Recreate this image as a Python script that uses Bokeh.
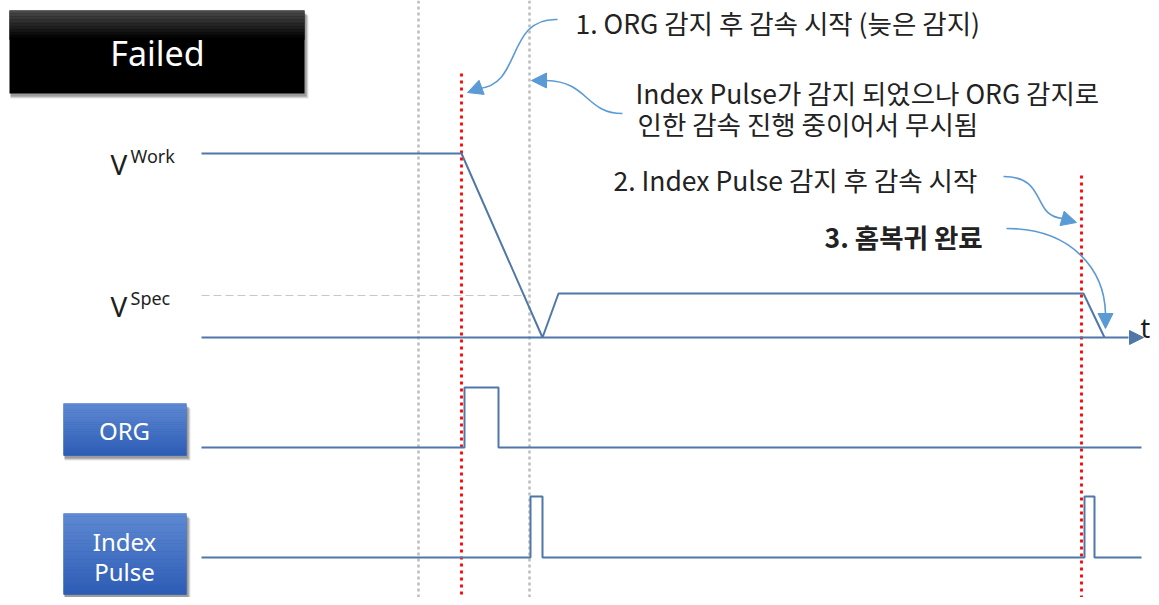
from bokeh.plotting import figure
from bokeh.models import Range1d, Arrow, NormalHead
from bokeh.core.properties import value
from bokeh.embed import file_html
from bokeh.resources import INLINE

# ---------------- data (time axis in drawing units, levels in drawing units) -------------
# velocity profile
vel_t = [201, 461, 542, 558, 1083, 1104]
vel_v = [153, 153, 337, 293, 293, 337]
v_zero = 337
v_spec = 295
axis_t = [201, 1128]
# ORG sensor signal
org_t = [201, 464, 464, 498, 498, 1141]
org_v = [447, 447, 387, 387, 447, 447]
# Index pulse signal
idx_t = [201, 530, 530, 542, 542, 1084, 1084, 1094, 1094, 1141]
idx_v = [557, 557, 496, 496, 557, 557, 496, 496, 557, 557]
# event markers
gray_marks = [418, 529]
red_marks = [461, 1081]
red_tops = [73, 175]

title_text = "Failed"
track_labels = ["ORG", "Index", "Pulse"]
notes = [
    "1. ORG 감지 후 감속 시작 (늦은 감지)",
    "Index Pulse가 감지 되었으나 ORG 감지로",
    "인한 감속 진행 중이어서 무시됨",
    "2. Index Pulse 감지 후 감속 시작",
    "3. 홈복귀 완료",
]

# ---------------- figure -----------------
W, H = 1151, 597
p = figure(width=W, height=H, x_range=Range1d(0, W), y_range=Range1d(H, 0),
           output_backend="svg", toolbar_location=None, min_border=0,
           x_axis_type=None, y_axis_type=None)
p.grid.visible = False
p.outline_line_color = None
p.background_fill_color = "white"
p.border_fill_color = "white"

SIG = "#4F78A8"
CURVE = "#5B9BD5"
KR = value("Noto Sans CJK KR")
LAT = value("Noto Sans")

# vertical marker lines
for x in gray_marks:
    p.line([x, x], [0, 600], line_color="#BDBDBD", line_width=2.5, line_dash="3 3")
for x, top in zip(red_marks, red_tops):
    p.line([x, x], [top, 600], line_color="#FF0000", line_width=2.8, line_dash="3 4")

# V spec dashed reference
p.line([201, 526], [v_spec, v_spec], line_color="#C8C8C8", line_width=1, line_dash="8 4")

# signals
p.line(axis_t, [v_zero, v_zero], line_color=SIG, line_width=2)
p.add_layout(Arrow(end=NormalHead(size=14, fill_color=SIG, line_color=SIG),
                   x_start=1125, y_start=v_zero, x_end=1143, y_end=v_zero, line_alpha=0))
p.line(vel_t, vel_v, line_color=SIG, line_width=2)
p.line(org_t, org_v, line_color=SIG, line_width=2)
p.line(idx_t, idx_v, line_color=SIG, line_width=2)


def gradient_box(x0, x1, y0, y1, c_top, c_bot, n=30, frac=1.0):
    # shadow
    for k, a in [(5, 0.10), (4, 0.15), (3, 0.2)]:
        p.quad(left=x0 + 1, right=x1 + k - 1, top=y0 + k, bottom=y1 + k,
               fill_color="#000000", fill_alpha=a, line_alpha=0)
    def hx(c):
        return [int(c[i:i + 2], 16) for i in (1, 3, 5)]
    a, b = hx(c_top), hx(c_bot)
    gh = (y1 - y0) * frac
    p.quad(left=x0, right=x1, top=y0, bottom=y1, fill_color=c_bot, line_alpha=0)
    for i in range(n):
        t = i / (n - 1)
        col = "#%02x%02x%02x" % tuple(int(a[j] + (b[j] - a[j]) * t) for j in range(3))
        ya = y0 + gh * i / n
        yb = y0 + gh * (i + 1) / n
        p.quad(left=x0, right=x1, top=ya, bottom=yb + 0.3, fill_color=col, line_alpha=0)


gradient_box(9, 304, 10, 93, "#4a4a4a", "#000000", n=20, frac=0.35)
gradient_box(63, 186, 403, 455, "#5E89D3", "#2E5DB5")
gradient_box(63, 186, 513, 594, "#5E89D3", "#2E5DB5")

p.text(x=[157], y=[52], text=[title_text], text_color="white", text_font=LAT,
       text_font_size="34px", text_align="center", text_baseline="middle")
p.text(x=[124, 124, 124], y=[430, 541, 571], text=track_labels, text_color="white",
       text_font=LAT, text_font_size="24px", text_align="center", text_baseline="middle")

# V labels
p.text(x=[110, 110], y=[163, 305], text=["V", "V"], text_color="#1e1e1e", text_font=LAT,
       text_font_size="28px", text_baseline="alphabetic")
p.text(x=[130, 130], y=[155, 297], text=["Work", "Spec"], text_color="#1e1e1e", text_font=LAT,
       text_font_size="18px", text_baseline="alphabetic")
p.text(x=[1140], y=[327], text=["t"], text_color="#1e1e1e", text_font=LAT,
       text_font_size="27px", text_baseline="alphabetic")

# annotations
p.text(x=[575, 635, 637, 613], y=[22, 92, 123, 179], text=notes[:4], text_color="#222222",
       text_font=KR, text_font_size="26.5px", text_baseline="middle")
p.text(x=[824], y=[236], text=[notes[4]], text_color="#222222", text_font=KR,
       text_font_size="26.5px", text_font_style="bold", text_baseline="middle")

# curved callout arrows
curves = [
    dict(x0=557, y0=19, cx0=505, cy0=17, cx1=522, cy1=85, x1=478, y1=88),
    dict(x0=622, y0=113, cx0=585, cy0=113, cx1=588, cy1=81, x1=546, y1=80),
    dict(x0=1003, y0=176, cx0=1048, cy0=176, cx1=1030, cy1=216, x1=1063, y1=218),
    dict(x0=1006, y0=228, cx0=1072, cy0=228, cx1=1104, cy1=270, x1=1105, y1=313),
]
heads = [(478, 88, 467, 92), (546, 80, 531, 80), (1062, 218, 1076, 222), (1105, 311, 1105, 328)]
for c in curves:
    p.bezier(x0=[c["x0"]], y0=[c["y0"]], x1=[c["x1"]], y1=[c["y1"]],
             cx0=[c["cx0"]], cy0=[c["cy0"]], cx1=[c["cx1"]], cy1=[c["cy1"]],
             line_color=CURVE, line_width=1.6)
for xs, ys, xe, ye in heads:
    p.add_layout(Arrow(end=NormalHead(size=15, fill_color=CURVE, line_color=CURVE),
                       x_start=xs, y_start=ys, x_end=xe, y_end=ye, line_alpha=0))

open("out.html", "w").write(file_html(p, INLINE))
